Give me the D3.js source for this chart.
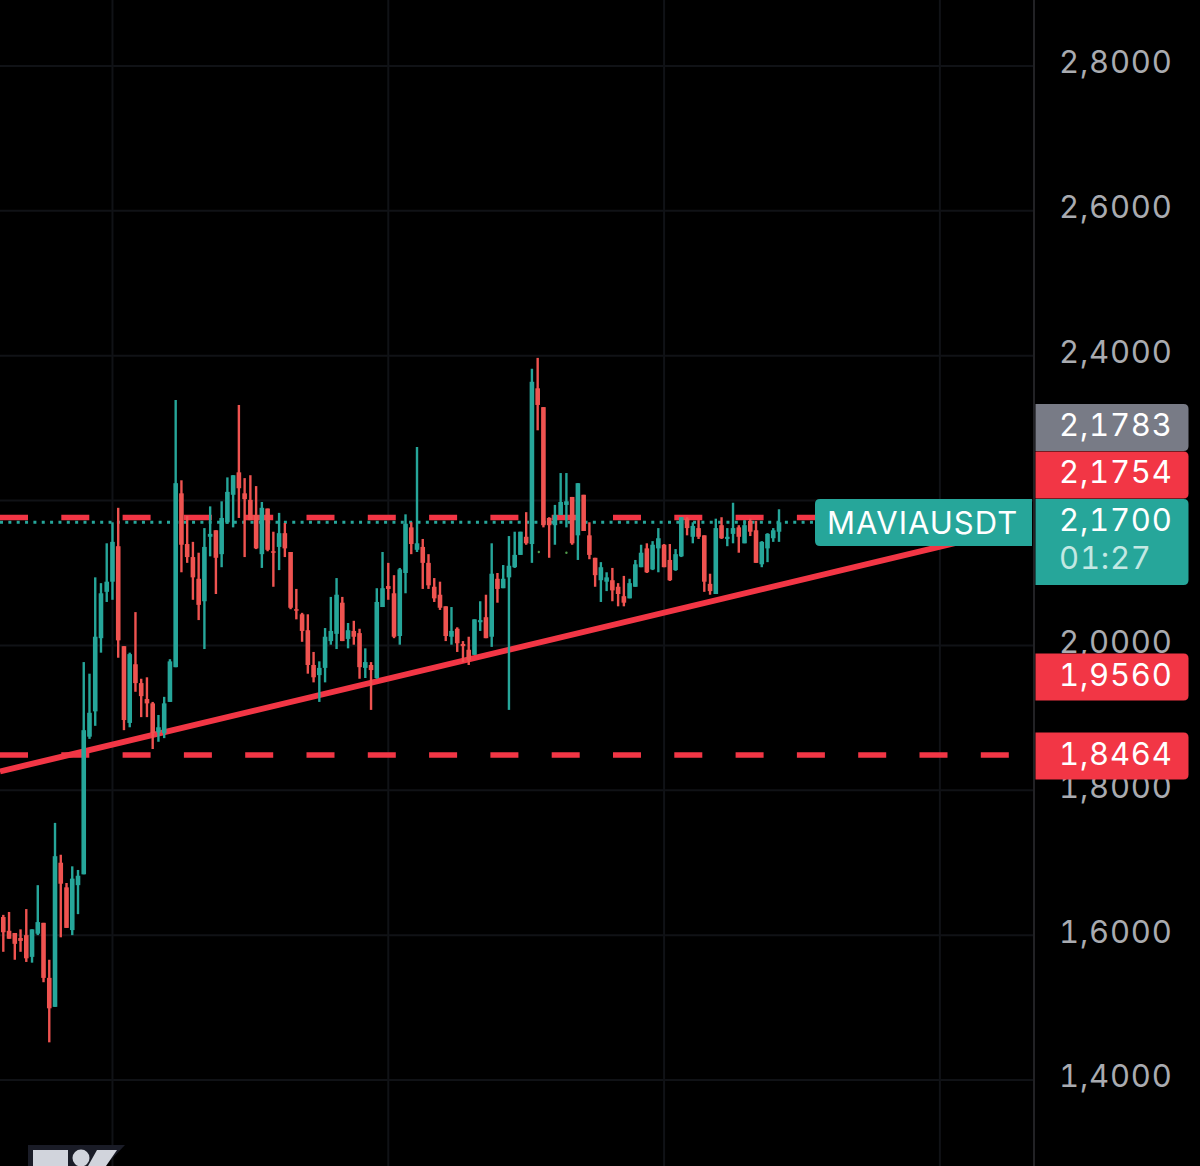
<!DOCTYPE html>
<html>
<head>
<meta charset="utf-8">
<title>MAVIAUSDT</title>
<script src="https://cdn.jsdelivr.net/npm/d3@7"></script>
<style>
  html, body { margin: 0; background: #000; }
  text { font-family: Inter, "Noto Sans", sans-serif; font-feature-settings: "tnum"; }
</style>
</head>
<body>
<div id="chart"></div>
<script>
// candles
const opens = [1.625,1.606,1.603,1.596,1.600,1.570,1.602,1.617,1.541,1.501,
  1.700,1.666,1.607,1.669,1.684,1.874,1.909,2.010,2.074,2.088,
  2.137,1.999,1.893,1.974,1.948,1.926,1.920,1.880,1.879,1.922,
  1.970,2.210,2.140,2.122,2.092,2.061,2.150,2.159,2.126,2.170,
  2.208,2.239,2.210,2.201,2.180,2.126,2.189,2.130,2.136,2.155,
  2.129,2.050,2.043,2.021,1.973,1.959,1.969,2.006,2.016,2.059,
  2.009,2.020,2.017,1.969,1.973,1.955,2.053,2.082,2.072,2.013,
  2.100,2.163,2.132,2.136,2.114,2.081,2.070,2.054,2.012,2.023,
  2.002,1.994,1.987,2.032,2.039,2.012,2.092,2.079,2.094,2.108,
  2.125,2.150,2.140,2.355,2.329,2.176,2.166,2.180,2.194,2.205,
  2.152,2.208,2.152,2.121,2.090,2.088,2.090,2.081,2.068,2.065,
  2.081,2.108,2.134,2.105,2.134,2.139,2.118,2.104,2.123,2.175,
  2.150,2.162,2.152,2.085,2.071,2.166,2.147,2.154,2.163,2.141,
  2.172,2.159,2.112,2.134,2.148,2.157];
const highs = [1.628,1.632,1.603,1.608,1.636,1.608,1.669,1.617,1.566,1.755,
  1.711,1.672,1.695,1.690,1.977,1.961,2.094,2.086,2.141,2.170,
  2.190,1.999,1.990,2.046,1.954,1.956,1.922,1.904,1.929,1.981,
  2.339,2.228,2.179,2.143,2.128,2.162,2.192,2.159,2.199,2.232,
  2.235,2.332,2.231,2.235,2.220,2.198,2.189,2.157,2.183,2.169,
  2.129,2.078,2.045,2.043,1.991,1.978,2.024,2.067,2.093,2.067,
  2.031,2.034,2.023,1.996,1.977,2.079,2.129,2.114,2.097,2.107,
  2.181,2.170,2.274,2.147,2.126,2.093,2.088,2.054,2.053,2.025,
  2.006,2.012,2.036,2.061,2.070,2.141,2.100,2.111,2.151,2.157,
  2.157,2.184,2.382,2.397,2.329,2.177,2.194,2.238,2.238,2.205,
  2.224,2.208,2.170,2.121,2.115,2.101,2.107,2.086,2.096,2.092,
  2.118,2.139,2.141,2.144,2.162,2.140,2.140,2.133,2.177,2.177,
  2.170,2.173,2.152,2.099,2.175,2.177,2.162,2.197,2.166,2.173,
  2.175,2.172,2.144,2.155,2.162,2.188];
const lows = [1.577,1.595,1.566,1.577,1.563,1.562,1.600,1.535,1.452,1.501,
  1.597,1.610,1.600,1.629,1.684,1.871,1.889,1.990,2.060,2.063,
  1.983,1.883,1.887,1.936,1.901,1.901,1.857,1.867,1.872,1.922,
  1.970,2.101,2.114,2.063,2.035,1.995,2.123,2.071,2.108,2.168,
  2.163,2.176,2.122,2.173,2.133,2.107,2.130,2.081,2.104,2.122,
  2.050,2.036,2.005,1.961,1.949,1.922,1.949,2.001,1.995,2.006,
  1.996,2.001,1.954,1.955,1.911,1.954,2.053,2.063,2.010,2.001,
  2.072,2.126,2.129,2.078,2.078,2.060,2.049,2.006,2.001,1.991,
  1.977,1.973,1.987,2.020,2.010,1.998,2.059,2.079,1.911,2.107,
  2.125,2.139,2.114,2.297,2.163,2.121,2.139,2.180,2.163,2.139,
  2.118,2.158,2.119,2.081,2.060,2.075,2.061,2.054,2.054,2.065,
  2.081,2.108,2.100,2.104,2.101,2.108,2.089,2.103,2.122,2.152,
  2.141,2.147,2.074,2.070,2.071,2.147,2.137,2.141,2.128,2.141,
  2.151,2.114,2.108,2.115,2.143,2.143];
const closes = [1.604,1.595,1.588,1.592,1.568,1.608,1.618,1.541,1.499,1.709,
  1.671,1.610,1.678,1.682,1.883,1.907,2.012,2.072,2.088,2.143,
  2.007,1.897,1.988,1.948,1.930,1.920,1.879,1.887,1.920,1.978,
  2.224,2.139,2.122,2.094,2.056,2.136,2.154,2.121,2.176,2.212,
  2.235,2.217,2.202,2.173,2.134,2.190,2.132,2.128,2.155,2.134,
  2.052,2.048,2.020,1.973,1.956,1.969,2.012,2.020,2.070,2.006,
  2.021,2.012,1.970,1.977,1.966,2.060,2.079,2.078,2.012,2.105,
  2.168,2.140,2.141,2.114,2.083,2.065,2.052,2.013,2.020,2.003,
  1.999,1.980,2.036,2.035,2.010,2.099,2.078,2.092,2.110,2.125,
  2.157,2.141,2.364,2.332,2.166,2.166,2.180,2.198,2.199,2.141,
  2.224,2.158,2.125,2.097,2.108,2.094,2.076,2.071,2.059,2.086,
  2.112,2.128,2.101,2.139,2.148,2.108,2.090,2.126,2.177,2.162,
  2.165,2.150,2.088,2.075,2.162,2.148,2.150,2.162,2.150,2.166,
  2.157,2.114,2.143,2.154,2.159,2.170];

const labelTicks = [2.8, 2.6, 2.4, 2.0, 1.8, 1.6, 1.4];
const gridTicks = [2.8, 2.6, 2.4, 2.2, 2.0, 1.8, 1.6, 1.4];
const gridCandles = [19, 67, 115, 163];

const lastPrice = 2.17;
const dashedLevels = [2.1765, 1.8487];
const trendCandles = [-0.57, 166.5];
const trendPrices = [1.826, 2.143];
const strayDotCandles = [93.2, 98];
const strayDotPrices = [2.129, 2.128];

const symbol = "MAVIAUSDT";
const countdown = "01:27";
const tagTexts = ["2,1783", "2,1754", "2,1700", "1,9560", "1,8464"];

// layout
const width = 1200;
const height = 1166;
const plotRight = 1034;
const red = "#f23645";
const upColor = "#26a69a";
const downColor = "#ef5350";
const gridColor = "#101216";
const labelSize = "31px";
const labelSpacing = "0.8px";

const x = d3.scaleLinear().domain([0, 135]).range([3.3, 779]);
const y = d3.scaleLinear().domain([1.4, 2.8]).range([1080, 66]);
const fmt = d => d.toFixed(4).replace(".", ",");

const svg = d3.select("#chart").append("svg")
  .attr("width", width)
  .attr("height", height)
  .style("display", "block")
  .style("background", "#000");

// grid
svg.append("g").selectAll("line").data(gridTicks).join("line")
  .attr("x1", 0).attr("x2", plotRight)
  .attr("y1", d => y(d)).attr("y2", d => y(d))
  .attr("stroke", gridColor).attr("stroke-width", 2);
svg.append("g").selectAll("line").data(gridCandles).join("line")
  .attr("x1", d => x(d)).attr("x2", d => x(d))
  .attr("y1", 0).attr("y2", height)
  .attr("stroke", gridColor).attr("stroke-width", 2);
svg.append("line")
  .attr("x1", plotRight).attr("x2", plotRight)
  .attr("y1", 0).attr("y2", height)
  .attr("stroke", "#222225").attr("stroke-width", 2);

// levels
svg.append("line")
  .attr("x1", 0).attr("x2", 816)
  .attr("y1", y(lastPrice)).attr("y2", y(lastPrice))
  .attr("stroke", upColor).attr("stroke-width", 3)
  .attr("stroke-dasharray", "3 5.35");
svg.append("g").selectAll("line").data(dashedLevels).join("line")
  .attr("x1", 0).attr("x2", 1012)
  .attr("y1", d => y(d)).attr("y2", d => y(d))
  .attr("stroke", red).attr("stroke-width", 5.5)
  .attr("stroke-dasharray", "28 33.3");
svg.append("line")
  .attr("x1", x(trendCandles[0])).attr("x2", x(trendCandles[1]))
  .attr("y1", y(trendPrices[0])).attr("y2", y(trendPrices[1]))
  .attr("stroke", red).attr("stroke-width", 6);

// candles
const candles = closes.map((c, i) => ({ i, o: opens[i], h: highs[i], l: lows[i], c }));
const color = d => d.c >= d.o ? upColor : downColor;

svg.append("g").selectAll("line").data(candles).join("line")
  .attr("x1", d => x(d.i)).attr("x2", d => x(d.i))
  .attr("y1", d => y(d.h)).attr("y2", d => y(d.l))
  .attr("stroke", color).attr("stroke-width", 2.4);
svg.append("g").selectAll("rect").data(candles).join("rect")
  .attr("x", d => x(d.i) - 2.3)
  .attr("width", 4.6)
  .attr("y", d => y(Math.max(d.o, d.c)))
  .attr("height", d => Math.max(1.5, Math.abs(y(d.o) - y(d.c))))
  .attr("fill", color);
svg.append("g").selectAll("circle").data(strayDotCandles).join("circle")
  .attr("cx", d => x(d))
  .attr("cy", (d, i) => y(strayDotPrices[i]))
  .attr("r", 1.2)
  .attr("fill", "#4f9a4a");

// price axis
const axis = d3.axisRight(y).tickValues(labelTicks).tickFormat(fmt).tickSize(0).tickPadding(0);
const axisG = svg.append("g").attr("transform", "translate(1059,-3)").call(axis);
axisG.select(".domain").remove();
axisG.selectAll("text")
  .attr("fill", "#a9abb0")
  .style("font-size", labelSize)
  .style("letter-spacing", labelSpacing);

// price tags
const tagTops = [404, 451.5, 499, 653.5, 732.5];
const tagHeights = [47, 47, 86, 47, 47];
const tagFills = ["#787b86", red, upColor, red, red];
const tagTextY = [425, 472, 520, 675, 754];

const roundedRight = (x0, y0, w, h, r) =>
  `M${x0},${y0}H${x0 + w - r}Q${x0 + w},${y0} ${x0 + w},${y0 + r}V${y0 + h - r}Q${x0 + w},${y0 + h} ${x0 + w - r},${y0 + h}H${x0}Z`;

svg.append("g").selectAll("path").data(tagTexts).join("path")
  .attr("d", (d, i) => roundedRight(1035.5, tagTops[i], 153, tagHeights[i], 5))
  .attr("fill", (d, i) => tagFills[i]);
svg.append("g").selectAll("text").data(tagTexts).join("text")
  .attr("x", 1059)
  .attr("y", (d, i) => tagTextY[i])
  .attr("dy", "0.36em")
  .attr("fill", "#fff")
  .style("font-size", labelSize)
  .style("letter-spacing", labelSpacing)
  .text(d => d);
svg.append("text")
  .attr("x", 1059).attr("y", 558).attr("dy", "0.36em")
  .attr("fill", "#c3e8e3")
  .style("font-size", labelSize)
  .style("letter-spacing", labelSpacing)
  .text(countdown);

// symbol label
svg.append("path")
  .attr("d", "M1032,499H820Q815,499 815,504V541Q815,546 820,546H1032Z")
  .attr("fill", upColor);
svg.append("text")
  .attr("x", 827).attr("y", 523).attr("dy", "0.36em")
  .attr("fill", "#fff")
  .style("font-size", labelSize)
  .style("letter-spacing", "1px")
  .text(symbol);

// cut off TradingView logo
const logo = svg.append("g");
logo.append("path").attr("d", "M28,1145H125L105,1166H28Z").attr("fill", "#1a1c27");
logo.append("path").attr("d", "M33,1150H68V1166H33Z").attr("fill", "#d1d4dc");
logo.append("circle").attr("cx", 81).attr("cy", 1158).attr("r", 8.5).attr("fill", "#d1d4dc");
logo.append("path").attr("d", "M97,1150H117L106,1166H88Z").attr("fill", "#d1d4dc");
</script>
</body>
</html>
